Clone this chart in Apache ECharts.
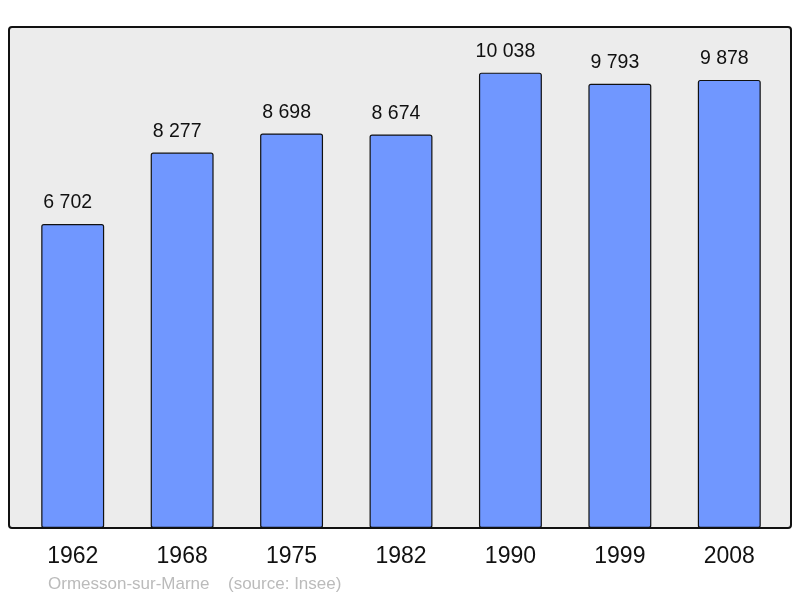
<!DOCTYPE html>
<html>
<head>
<meta charset="utf-8">
<script src="https://cdn.jsdelivr.net/npm/echarts@6/dist/echarts.min.js"></script>
<style>
    html, body { margin: 0; padding: 0; background: #fff; }
    #chart { width: 800px; height: 598px; }
</style>
</head>
<body>
<div id="chart"></div>
<script>
    // années et population
    var years = ['1962', '1968', '1975', '1982', '1990', '1999', '2008'];
    var population = [6702, 8277, 8698, 8674, 10038, 9793, 9878];
    var commune = 'Ormesson-sur-Marne';
    var source = '(source: Insee)';

    function fmt(v) {
        return String(v).replace(/\B(?=(\d{3})+(?!\d))/g, ' ');
    }

    var mychart = echarts.init(document.getElementById('chart'));
    var option = {
        backgroundColor: '#ffffff',
        animation: false,
        grid: {
            left: 18,
            right: 16,
            top: 29,
            bottom: 70
        },
        //cadre gris + pied de page
        graphic: [
            {
                type: 'rect',
                z: -10,
                shape: { x: 9, y: 27, width: 782, height: 501, r: 3 },
                style: { fill: '#ececec', stroke: '#111', lineWidth: 2 }
            },
            {
                type: 'text',
                left: 48,
                top: 576,
                style: {
                    text: commune,
                    fill: '#bbbbbb',
                    font: '17px "Liberation Sans", Arial, sans-serif'
                }
            },
            {
                type: 'text',
                left: 228,
                top: 576,
                style: {
                    text: source,
                    fill: '#bbbbbb',
                    font: '17px "Liberation Sans", Arial, sans-serif'
                }
            }
        ],
        xAxis: {
            type: 'category',
            data: years,
            axisLine: { show: false },
            axisTick: { show: false },
            axisLabel: {
                color: '#111',
                fontSize: 23,
                fontFamily: '"Liberation Sans", Arial, sans-serif',
                margin: 17
            }
        },
        yAxis: {
            type: 'value',
            min: 0,
            max: 11000,
            show: false,
            splitLine: { show: false }
        },
        series: [{
            type: 'bar',
            data: population,
            barWidth: '57.5%',
            itemStyle: {
                color: '#7097ff',
                borderColor: '#111',
                borderWidth: 1.2,
                borderRadius: 2
            },
            label: {
                show: true,
                position: 'top',
                distance: 11,
                offset: [-5, 0],
                color: '#111',
                fontSize: 19.5,
                fontFamily: '"Liberation Sans", Arial, sans-serif',
                formatter: function (p) { return fmt(p.value); }
            }
        }]
    };
    mychart.setOption(option);
</script>
</body>
</html>
